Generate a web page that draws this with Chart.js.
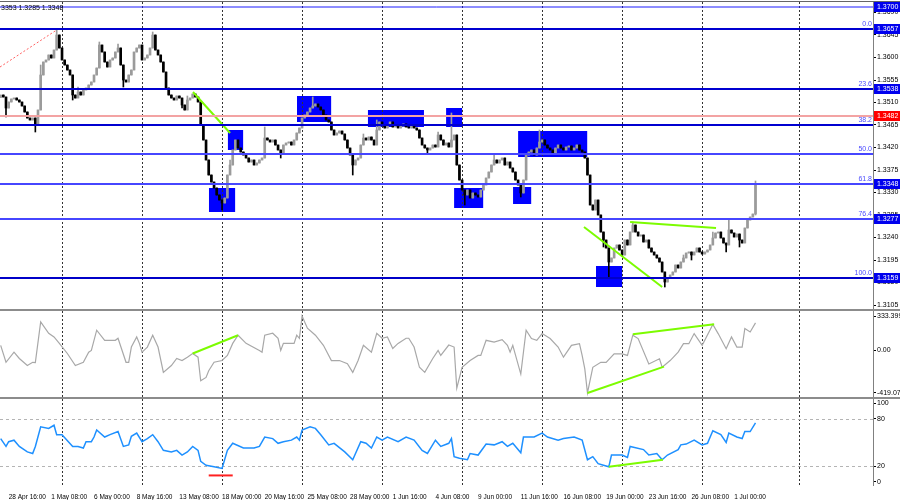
<!DOCTYPE html>
<html>
<head>
<meta charset="utf-8">
<title>H4 chart</title>
<script src="https://cdn.jsdelivr.net/npm/chart.js@4.4.1/dist/chart.umd.min.js"></script>
<style>
  html, body { margin: 0; padding: 0; background: #fff; }
  #wrap { position: relative; width: 900px; height: 500px; overflow: hidden; }
  #wrap canvas { position: absolute; left: 0; }
  .sep { position: absolute; left: 0; width: 900px; }
</style>
</head>
<body>
<div id="wrap">
  <canvas id="chart-main" width="900" height="309" style="top:0px"></canvas>
  <canvas id="chart-cci" width="900" height="86" style="top:311px"></canvas>
  <canvas id="chart-rsi" width="900" height="101" style="top:399px"></canvas>
  <div class="sep" style="top:1px;height:1px;background:#666"></div>
  <div class="sep" style="top:309px;height:2px;background:#8c8c8c"></div>
  <div class="sep" style="top:397px;height:2px;background:#8c8c8c"></div>
</div>
<script>
// ══════════════════════════════════════════
// DATA  (H4 bars, bar 0 = 28 Apr 04:00)
// ══════════════════════════════════════════

const firstOpen = 1.3520;
const closes = [
  1.3525, 1.3521, 1.3499, 1.3511, 1.3517, 1.3519, 1.3515, 1.3511, 1.3503, 1.3491,
  1.3479, 1.3475, 1.3479, 1.3465, 1.3495, 1.3565, 1.3591, 1.3595, 1.3605, 1.3599,
  1.3615, 1.3645, 1.3619, 1.3595, 1.3585, 1.3575, 1.3565, 1.3525, 1.3519, 1.3531,
  1.3525, 1.3535, 1.3539, 1.3545, 1.3551, 1.3565, 1.3579, 1.3625, 1.3611, 1.3591,
  1.3581, 1.3595, 1.3599, 1.3611, 1.3619, 1.3585, 1.3555, 1.3551, 1.3565, 1.3575,
  1.3611, 1.3619, 1.3625, 1.3595, 1.3599, 1.3605, 1.3619, 1.3645, 1.3615, 1.3605,
  1.3591, 1.3571, 1.3539, 1.3525, 1.3519, 1.3515, 1.3523, 1.3519, 1.3505, 1.3495,
  1.3515, 1.3519, 1.3527, 1.3521, 1.3511, 1.3465, 1.3435, 1.3395, 1.3365, 1.3351,
  1.3339, 1.3325, 1.3315, 1.3309, 1.3319, 1.3365, 1.3385, 1.3415, 1.3435, 1.3419,
  1.3411, 1.3405, 1.3399, 1.3391, 1.3395, 1.3385, 1.3389, 1.3395, 1.3399, 1.3439,
  1.3435, 1.3431, 1.3435, 1.3425, 1.3415, 1.3409, 1.3425, 1.3429, 1.3431, 1.3425,
  1.3435, 1.3449, 1.3459, 1.3479, 1.3485, 1.3491, 1.3499, 1.3503, 1.3507, 1.3501,
  1.3495, 1.3485, 1.3475, 1.3471, 1.3455, 1.3445, 1.3449, 1.3453, 1.3447, 1.3435,
  1.3419, 1.3405, 1.3385, 1.3395, 1.3399, 1.3425, 1.3439, 1.3435, 1.3441, 1.3435,
  1.3425, 1.3455, 1.3471, 1.3465, 1.3459, 1.3465, 1.3471, 1.3461, 1.3465, 1.3459,
  1.3463, 1.3467, 1.3461, 1.3459, 1.3465, 1.3459, 1.3455, 1.3439, 1.3425, 1.3419,
  1.3415, 1.3419, 1.3425, 1.3421, 1.3445, 1.3435, 1.3425, 1.3429, 1.3421, 1.3435,
  1.3445, 1.3385, 1.3355, 1.3335, 1.3325, 1.3335, 1.3319, 1.3329, 1.3325, 1.3321,
  1.3335, 1.3345, 1.3359, 1.3371, 1.3385, 1.3395, 1.3389, 1.3395, 1.3399, 1.3385,
  1.3391, 1.3379, 1.3371, 1.3355, 1.3345, 1.3329, 1.3355, 1.3405, 1.3411, 1.3415,
  1.3405, 1.3419, 1.3431, 1.3435, 1.3425, 1.3419, 1.3415, 1.3409, 1.3419, 1.3425,
  1.3419, 1.3415, 1.3421, 1.3423, 1.3415, 1.3419, 1.3425, 1.3415, 1.3411, 1.3399,
  1.3365, 1.3305, 1.3295, 1.3315, 1.3285, 1.3251, 1.3235, 1.3219, 1.3191, 1.3199,
  1.3219, 1.3225, 1.3215, 1.3205, 1.3235, 1.3225, 1.3251, 1.3265, 1.3251, 1.3243,
  1.3245, 1.3231, 1.3235, 1.3219, 1.3211, 1.3205, 1.3199, 1.3191, 1.3171, 1.3151,
  1.3159, 1.3165, 1.3171, 1.3185, 1.3179, 1.3191, 1.3199, 1.3209, 1.3211, 1.3205,
  1.3211, 1.3219, 1.3211, 1.3207, 1.3211, 1.3215, 1.3225, 1.3239, 1.3249, 1.3251,
  1.3239, 1.3229, 1.3225, 1.3255, 1.3249, 1.3241, 1.3247, 1.3235, 1.3229, 1.3259,
  1.3275, 1.3281, 1.3287, 1.3348
];
// [bar, price] where the wick sticks out of the body
const spikeHighs = [[15, 1.3585], [21, 1.3657], [29, 1.3541], [37, 1.3631], [44, 1.3627], [57, 1.3651],
  [70, 1.3523], [86, 1.3395], [99, 1.3461], [117, 1.3521], [136, 1.3447], [141, 1.3475], [164, 1.3451],
  [169, 1.3489], [185, 1.3405], [202, 1.3455], [221, 1.3345], [237, 1.3271], [256, 1.3205], [267, 1.3251],
  [273, 1.3275], [283, 1.3353]];
const spikeLows = [[2, 1.3481], [13, 1.3451], [27, 1.3515], [46, 1.3541], [68, 1.3499], [83, 1.3295],
  [105, 1.3399], [132, 1.3365], [160, 1.3409], [174, 1.3305], [195, 1.3321], [226, 1.3221], [228, 1.3161],
  [249, 1.3141], [259, 1.3195], [272, 1.3211], [277, 1.3221], [283, 1.3285]];

const priceTicks = [1.3690, 1.3645, 1.3600, 1.3555, 1.3510, 1.3465, 1.3420, 1.3375, 1.3330, 1.3285, 1.3240, 1.3195, 1.3150, 1.3105];
const weekBars = [23, 53, 83, 113, 143, 173, 203, 233, 263, 299.4];
const timeBars = [3, 19, 35, 51, 67, 83, 99, 115, 131, 147, 163, 179, 195, 211, 227, 243, 259, 275];
const timeLabels = ['28 Apr 16:00', '1 May 08:00', '6 May 00:00', '8 May 16:00', '13 May 08:00', '18 May 00:00',
  '20 May 16:00', '25 May 08:00', '28 May 00:00', '1 Jun 16:00', '4 Jun 08:00', '9 Jun 00:00', '11 Jun 16:00',
  '16 Jun 08:00', '19 Jun 00:00', '23 Jun 16:00', '26 Jun 08:00', '1 Jul 00:00'];

// horizontal levels + fibo captions
const levelPrices = [1.3700, 1.3657, 1.3538, 1.3482, 1.3465, 1.3408, 1.3348, 1.3277, 1.3159];
const levelFib = [null, '0.0', '23.6', null, '38.2', '50.0', '61.8', '76.4', '100.0'];
const boxedPrices = [1.3700, 1.3657, 1.3538, 1.3482, 1.3348, 1.3277, 1.3159];

// zones: [fromBar, toBar, topPrice, bottomPrice]
const zones = [
  [85.2, 90.9, 1.3455, 1.3415], [78.1, 87.9, 1.3339, 1.3291], [111.1, 123.9, 1.3523, 1.3471],
  [137.7, 158.7, 1.3495, 1.3461], [167.0, 173.0, 1.3499, 1.3461], [170.0, 180.9, 1.3339, 1.3299],
  [192.1, 198.9, 1.3341, 1.3307], [194.0, 219.9, 1.3453, 1.3401], [223.2, 233.0, 1.3183, 1.3141]
];
// trend lines: [bar0, value0, bar1, value1]
const mainTrend = [[72.1, 1.3531, 86, 1.3449], [218.7, 1.3261, 248, 1.3141], [236, 1.3271, 268.2, 1.3259]];
const redDash = [-0.25, 1.3581, 21, 1.3655];

// CCI
const cciBars = [0, 2, 5, 7, 10, 12, 13, 15, 18, 20, 22, 25, 28, 31, 33, 34, 36, 39, 43, 44, 47, 48, 49, 51, 52, 53, 55,
  57, 59, 61, 64, 66, 68, 70, 72, 74, 75, 77, 78, 80, 83, 85, 87, 89, 92, 97, 98, 99, 102, 104, 105, 106, 109, 110,
  111, 112, 113, 115, 118, 121, 124, 127, 130, 132, 134, 136, 139, 141, 143, 145, 147, 149, 152, 153, 155, 157, 159,
  162, 164, 165, 168, 170, 171, 173, 176, 179, 180, 182, 185, 188, 190, 191, 192, 195, 197, 199, 201, 203, 206, 209,
  211, 214, 217, 218, 219, 220, 222, 225, 227, 230, 233, 235, 237, 239, 243, 247, 248, 251, 254, 256, 258, 260, 263,
  267, 269, 272, 274, 276, 278, 279, 281, 283];
const cciVals = [47, -119, -20, -82, -151, -119, -122, 277, 165, 129, 66, -33, -151, -119, -20, -3, 195, 96, 96, 116,
  -119, -119, 30, 129, 66, -20, 30, 146, 30, -218, -151, -82, -102, -69, -33, -69, -300, -267, -201, -119, -102, -52,
  66, 146, 66, -3, -20, 146, 165, 116, -3, 66, 66, 66, 146, 116, 333.4, 215, 146, 47, -102, -102, -132, -218, -102,
  47, -20, 165, 116, 129, 17, 66, 116, 116, 30, -168, -218, -82, -3, -52, 50, 30, -372, -168, -102, -52, -52, 96, 79,
  103, 47, -20, 47, -234, 195, 113, 96, 162, 113, 30, -69, 47, 63, -52, -184, -419, -168, -119, -119, -36, -36, -52,
  146, 113, -135, -85, -168, -102, -20, 63, 63, 162, 47, 251, 162, 14, 129, 30, 30, 212, 178, 267];
const cciTicks = [333.3997, 0, -419.071];
const cciTickText = ['333.3997', '0.00', '-419.071'];
const cciTrend = [[72, -33, 89, 146], [220, -419, 248.7, -161], [237, 155, 267.5, 254]];

// RSI
const rsiBars = [0, 2, 3, 5, 7, 10, 12, 13, 15, 18, 20, 21, 23, 27, 29, 31, 32, 34, 35, 36, 39, 41, 44, 46, 48, 49, 51,
  53, 55, 57, 59, 61, 64, 66, 68, 70, 72, 74, 75, 77, 80, 83, 85, 87, 91, 95, 97, 99, 102, 104, 106, 109, 111, 112,
  113, 116, 118, 120, 123, 125, 129, 132, 135, 137, 139, 141, 143, 145, 149, 152, 155, 158, 160, 163, 165, 168, 169,
  170, 172, 175, 176, 179, 182, 185, 188, 190, 192, 195, 196, 200, 203, 205, 209, 211, 215, 218, 220, 222, 224, 226,
  228, 229, 233, 235, 236, 241, 243, 246, 248, 250, 254, 255, 257, 260, 263, 265, 267, 270, 272, 273, 276, 278, 279,
  281, 283];
const rsiVals = [55, 45, 51, 53, 45, 38, 36, 45, 70, 68, 72, 60, 60, 45, 45, 43, 51, 51, 57, 66, 57, 60, 64, 45, 47, 58,
  62, 51, 55, 60, 51, 40, 38, 40, 34, 38, 45, 40, 26, 21, 19, 17, 40, 49, 43, 43, 45, 57, 55, 49, 51, 53, 57, 53, 66,
  70, 68, 60, 47, 49, 38, 28, 51, 49, 43, 57, 53, 57, 51, 57, 53, 40, 36, 53, 45, 49, 55, 32, 30, 28, 36, 34, 48, 47,
  51, 45, 49, 37, 57, 57, 62, 57, 53, 55, 57, 53, 28, 32, 23, 21, 19, 34, 34, 31, 45, 41, 34, 36, 28, 34, 41, 47, 48,
  53, 47, 49, 65, 60, 50, 62, 57, 55, 64, 64, 75];
const rsiTicks = [100, 80, 20, 0];
const rsiLevels = [80, 20];
const rsiTrend = [[228, 19, 248.3, 28]];
const rsiRed = [78, 8, 87, 8];

// ══════════════════════════════════════════
// LAYOUT / STYLE
// ══════════════════════════════════════════
const FONT = '"Liberation Sans", Arial, sans-serif';
const X_MIN = -0.25, X_MAX = 327.05;
const AXIS_W = 27;
const levelColors = ['#1c1cff', '#0000d0', '#0000d0', '#f3a3a3', '#0000d0', '#4646ff', '#4646ff', '#4646ff', '#0000c8'];
const levelWidths = [1, 2, 2, 2, 2, 2, 2, 2, 2];

const opens = closes.map((c, i) => (i === 0 ? firstOpen : closes[i - 1]));
const highs = closes.map((c, i) => Math.max(c, opens[i]));
const lows = closes.map((c, i) => Math.min(c, opens[i]));
spikeHighs.forEach(([i, p]) => { highs[i] = Math.max(highs[i], p); });
spikeLows.forEach(([i, p]) => { lows[i] = Math.min(lows[i], p); });
const candleColors = closes.map((c, i) => (c >= opens[i] ? '#9b9b9b' : '#000000'));

function lineDs(seg, color, width) {
  return {
    type: 'line',
    data: [{ x: seg[0], y: seg[1] }, { x: seg[2], y: seg[3] }],
    borderColor: color, borderWidth: width, pointRadius: 0, tension: 0, fill: false
  };
}

function rightAxis(min, max, ticks, fmt) {
  return {
    position: 'right', min, max,
    afterBuildTicks: s => { s.ticks = ticks.map(v => ({ value: v })); },
    afterFit: s => { s.width = AXIS_W; s.paddingTop = 0; s.paddingBottom = 0; },
    grid: { drawOnChartArea: false, drawTicks: true, tickLength: 3, tickColor: '#000' },
    border: { display: true, color: '#808080' },
    ticks: { callback: fmt, padding: 1, autoSkip: false, color: '#000', font: { family: FONT, size: 7 } }
  };
}

function hiddenX() {
  return { type: 'linear', min: X_MIN, max: X_MAX, offset: false, display: false };
}

const baseOptions = {
  responsive: false, animation: false, events: [], devicePixelRatio: 1,
  plugins: { legend: { display: false }, tooltip: { enabled: false } }
};

// ── plugins ──
const weekGrid = {
  id: 'weekGrid',
  beforeDatasetsDraw(chart) {
    const { ctx, chartArea: a, scales: { x } } = chart;
    ctx.save();
    ctx.strokeStyle = '#333'; ctx.lineWidth = 1; ctx.setLineDash([2, 2]);
    weekBars.forEach(b => {
      const px = Math.round(x.getPixelForValue(b)) + 0.5;
      ctx.beginPath(); ctx.moveTo(px, a.top); ctx.lineTo(px, a.bottom); ctx.stroke();
    });
    ctx.restore();
  }
};

const zonePlugin = {
  id: 'zones',
  beforeDatasetsDraw(chart) {
    const { ctx, chartArea: a, scales: { x, y } } = chart;
    ctx.save();
    ctx.beginPath(); ctx.rect(a.left, a.top, a.right - a.left, a.bottom - a.top); ctx.clip();
    ctx.fillStyle = '#0000ff';
    zones.forEach(([b0, b1, p0, p1]) => {
      const x0 = x.getPixelForValue(b0), x1 = x.getPixelForValue(b1);
      const y0 = y.getPixelForValue(p0), y1 = y.getPixelForValue(p1);
      ctx.fillRect(x0, y0, x1 - x0, y1 - y0);
    });
    ctx.restore();
  }
};

const levelPlugin = {
  id: 'levels',
  afterDatasetsDraw(chart) {
    const { ctx, chartArea: a, scales: { y } } = chart;
    ctx.save();
    levelPrices.forEach((p, i) => {
      const py = Math.round(y.getPixelForValue(p));
      ctx.strokeStyle = levelColors[i]; ctx.lineWidth = levelWidths[i];
      ctx.beginPath(); ctx.moveTo(a.left, py); ctx.lineTo(a.right, py); ctx.stroke();
      if (levelFib[i]) {
        ctx.font = '7px ' + FONT; ctx.fillStyle = '#4b4bff';
        ctx.textAlign = 'right'; ctx.textBaseline = 'bottom';
        ctx.fillText(levelFib[i], a.right - 1, py - 1);
      }
    });
    ctx.restore();
  },
  afterDraw(chart) {
    const { ctx, chartArea: a, scales: { y } } = chart;
    ctx.save();
    ctx.font = '7px ' + FONT; ctx.textBaseline = 'middle'; ctx.textAlign = 'left';
    boxedPrices.forEach(p => {
      const py = Math.round(y.getPixelForValue(p));
      ctx.fillStyle = p === 1.3482 ? '#ff0000' : '#0000ee';
      ctx.fillRect(a.right + 1, py - 5, 26, 10);
      ctx.fillStyle = '#fff';
      ctx.fillText(p.toFixed(4), a.right + 4, py);
    });
    // OHLC header
    ctx.fillStyle = '#000'; ctx.textBaseline = 'alphabetic';
    ctx.fillText('3353 1.3285 1.3348', 1, 10);
    ctx.restore();
  }
};

const rsiLevelPlugin = {
  id: 'rsiLevels',
  beforeDatasetsDraw(chart) {
    const { ctx, chartArea: a, scales: { y } } = chart;
    ctx.save();
    ctx.strokeStyle = '#b4b4b4'; ctx.lineWidth = 1; ctx.setLineDash([3, 3]);
    rsiLevels.forEach(v => {
      const py = Math.round(y.getPixelForValue(v)) + 0.5;
      ctx.beginPath(); ctx.moveTo(a.left, py); ctx.lineTo(a.right, py); ctx.stroke();
    });
    ctx.restore();
  }
};

// ── Main price panel ──
new Chart(document.getElementById('chart-main'), {
  type: 'bar',
  data: {
    datasets: [
      ...mainTrend.map(seg => lineDs(seg, '#7cfc00', 2)),
      Object.assign(lineDs(redDash, '#ff6060', 1), { borderDash: [2, 2] }),
      {
        type: 'bar', data: closes.map((c, i) => ({ x: i, y: [opens[i], c] })),
        backgroundColor: candleColors, borderWidth: 0, barThickness: 2, minBarLength: 1, grouped: false
      },
      {
        type: 'bar', data: closes.map((c, i) => ({ x: i, y: [lows[i], highs[i]] })),
        backgroundColor: candleColors, borderWidth: 0, barThickness: 1, minBarLength: 1, grouped: false
      }
    ]
  },
  options: Object.assign({}, baseOptions, {
    layout: { padding: { top: 2, left: 0, right: 0, bottom: 0 } },
    scales: { x: hiddenX(), y: rightAxis(1.3097, 1.3711, priceTicks, v => v.toFixed(4)) }
  }),
  plugins: [zonePlugin, weekGrid, levelPlugin]
});

// ── CCI panel ──
new Chart(document.getElementById('chart-cci'), {
  type: 'line',
  data: {
    datasets: [
      ...cciTrend.map(seg => lineDs(seg, '#7cfc00', 2)),
      {
        data: cciBars.map((b, i) => ({ x: b, y: cciVals[i] })),
        borderColor: '#a8a8a8', borderWidth: 1.2, pointRadius: 0, tension: 0, fill: false
      }
    ]
  },
  options: Object.assign({}, baseOptions, {
    layout: { padding: 0 },
    scales: { x: hiddenX(), y: rightAxis(-458.7, 382.9, cciTicks, (v, i) => cciTickText[i]) }
  }),
  plugins: [weekGrid]
});

// ── RSI panel ──
new Chart(document.getElementById('chart-rsi'), {
  type: 'line',
  data: {
    datasets: [
      ...rsiTrend.map(seg => lineDs(seg, '#7cfc00', 2)),
      lineDs(rsiRed, '#ff2020', 2),
      {
        data: rsiBars.map((b, i) => ({ x: b, y: rsiVals[i] })),
        borderColor: '#1e90ff', borderWidth: 1.5, pointRadius: 0, tension: 0, fill: false
      }
    ]
  },
  options: Object.assign({}, baseOptions, {
    layout: { padding: 0 },
    scales: {
      x: {
        type: 'linear', min: X_MIN, max: X_MAX, offset: false, position: 'bottom',
        afterBuildTicks: s => { s.ticks = timeBars.map(v => ({ value: v })); },
        afterFit: s => { s.height = 15; s.paddingLeft = 0; s.paddingRight = 0; },
        grid: { display: false }, border: { display: false },
        ticks: {
          align: 'start', maxRotation: 0, minRotation: 0, autoSkip: false, padding: 0,
          callback: (v, i) => timeLabels[i], color: '#000', font: { family: FONT, size: 6.5 }
        }
      },
      y: rightAxis(-4.2, 105.5, rsiTicks, v => String(v))
    }
  }),
  plugins: [weekGrid, rsiLevelPlugin]
});
</script>
</body>
</html>
